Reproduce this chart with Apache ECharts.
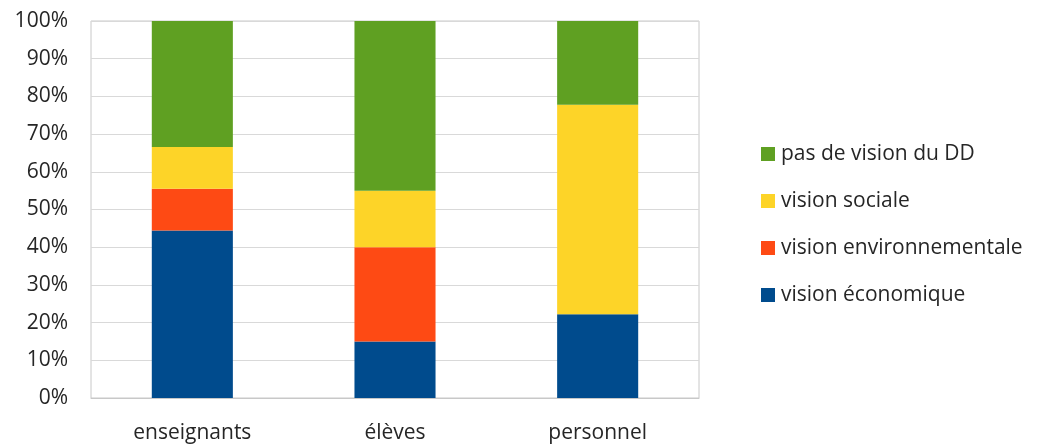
<!DOCTYPE html>
<html><head><meta charset="utf-8">
<script src="https://cdn.jsdelivr.net/npm/echarts@6/dist/echarts.min.js"></script>
<style>html,body{margin:0;padding:0;background:#fff}#c{width:1044px;height:446px}</style>
</head><body><div id="c"></div>
<script>
const categories = ['enseignants', 'élèves', 'personnel'];
const economique = [44.4, 15, 22.2];
const environnementale = [11.1, 25, 0];
const sociale = [11.1, 15, 55.6];
const pasDeVision = [33.4, 45, 22.2];
const seriesNames = ['vision économique', 'vision environnementale', 'vision sociale', 'pas de vision du DD'];
const legendOrder = ['pas de vision du DD', 'vision sociale', 'vision environnementale', 'vision économique'];
const colors = ['#004b8d', '#fe4a14', '#fdd428', '#5fa022'];
const values = [economique, environnementale, sociale, pasDeVision];
const font = '"Open Sans", sans-serif';

const chart = echarts.init(document.getElementById('c'));
chart.setOption({
  animation: false,
  grid: { left: 91, right: 345, top: 21, bottom: 48, show: true, borderColor: '#c8c8c8', borderWidth: 1 },
  legend: {
    orient: 'vertical', left: 761, top: 142, padding: 0,
    data: legendOrder, icon: 'rect', itemWidth: 14, itemHeight: 14, itemGap: 23,
    textStyle: { fontFamily: font, fontSize: 21, color: '#262626', lineHeight: 24, padding: [0, 0, 0, 1] }
  },
  xAxis: {
    type: 'category', data: categories,
    axisLine: { lineStyle: { color: '#c8c8c8' } }, axisTick: { show: false },
    axisLabel: { fontFamily: font, fontSize: 21, color: '#262626', margin: 25 }
  },
  yAxis: {
    type: 'value', min: 0, max: 100, interval: 10,
    axisLabel: { formatter: '{value}%', fontFamily: font, fontSize: 21, color: '#262626', margin: 23 },
    splitLine: { lineStyle: { color: '#d9d9d9' } }, axisLine: { show: false }, axisTick: { show: false }
  },
  series: seriesNames.map((n, i) => ({
    name: n, type: 'bar', stack: 'total', data: values[i], barWidth: '40%',
    itemStyle: { color: colors[i] }
  }))
});
</script></body></html>
